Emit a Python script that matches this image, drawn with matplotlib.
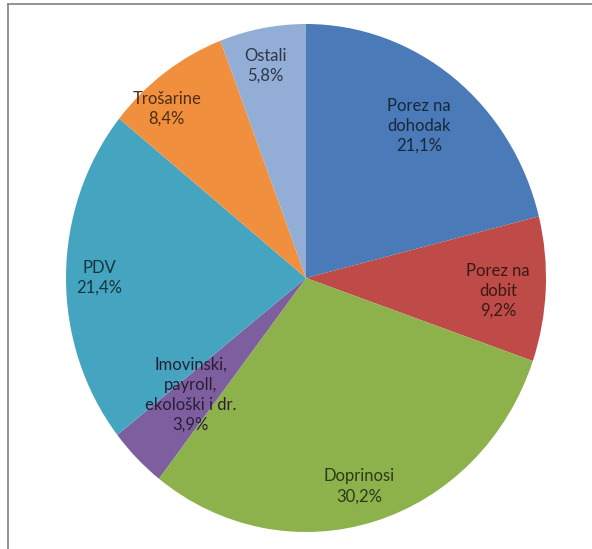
import matplotlib.pyplot as plt
from matplotlib.lines import Line2D
import matplotlib.colors as mcolors

labels = ['Porez na\ndohodak', 'Porez na\ndobit', 'Doprinosi',
          'Imovinski,\npayroll,\nekološki i dr.', 'PDV', 'Trošarine', 'Ostali']
shares = [21.1, 9.2, 30.2, 3.9, 21.4, 8.4, 5.8]

colors = ['#4A7AB7', '#BE4B48', '#8DB24B', '#7D5FA0', '#45A5C0', '#F0903F', '#92ADD6']
# label centres in axes data units (pie radius = 1)
label_pos = [(0.47, 0.60), (0.80, -0.05), (0.22, -0.82), (-0.48, -0.46),
             (-0.86, 0.00), (-0.58, 0.665), (-0.17, 0.835)]

plt.rcParams['font.family'] = ['Lato', 'DejaVu Sans']

fig = plt.figure(figsize=(5.92, 5.49), dpi=100)
fig.patch.set_facecolor('white')

# cropped chart frame: only the left and top edges are visible
fig.add_artist(Line2D([8/592, 8/592], [0, 1 - 4/549], color='#8a8a8a', lw=1.3))
fig.add_artist(Line2D([8/592, 1], [1 - 4/549, 1 - 4/549], color='#8a8a8a', lw=1.3))

ax = fig.add_axes([66/592, 17/549, 480/592, 508/549])
wedges, _ = ax.pie(shares, colors=colors, startangle=90, counterclock=False,
                   radius=1.0, wedgeprops=dict(linewidth=0))
ax.set_aspect('auto')
ax.set_xlim(-1, 1)
ax.set_ylim(-1, 1)

for lab, val, (x, y), c in zip(labels, shares, label_pos, colors):
    dark = [v * 0.32 for v in mcolors.to_rgb(c)]
    txt = lab + '\n' + ('%.1f%%' % val).replace('.', ',')
    ax.text(x, y, txt, ha='center', va='center', fontsize=12,
            color=dark, linespacing=1.3)

fig.savefig('out.png', dpi=100, facecolor='white')
